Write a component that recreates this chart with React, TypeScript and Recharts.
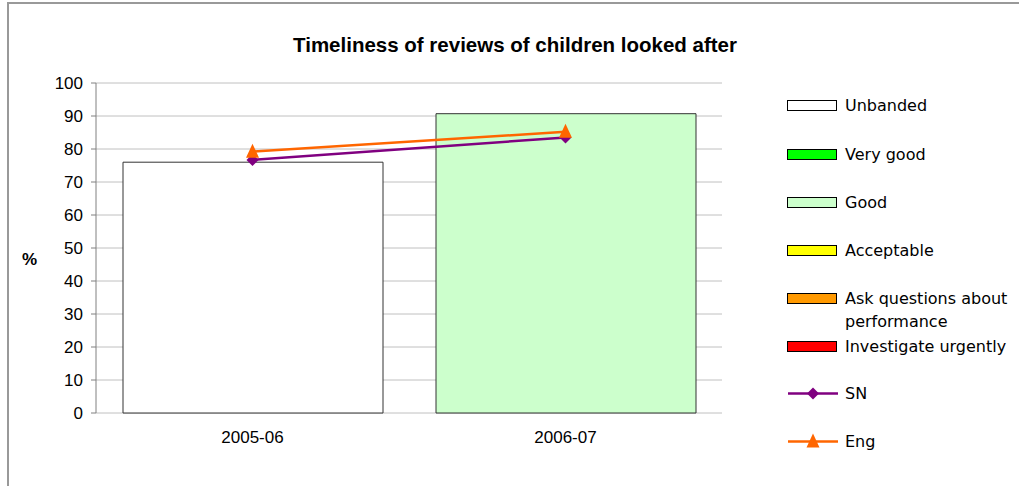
import React from 'react';
import { ComposedChart, Bar, Line, XAxis, YAxis, CartesianGrid, Cell } from 'recharts';

const categories = ['2005-06', '2006-07'];
const barValues = [76, 90.7];
const barBands = ['Unbanded', 'Good'];
const snValues = [76.7, 83.5];
const engValues = [79.2, 85.2];
const yTicks = [0, 10, 20, 30, 40, 50, 60, 70, 80, 90, 100];
const edgeTicks = [0, 1, 2];

const bandNames = ['Unbanded', 'Very good', 'Good', 'Acceptable', 'Ask questions about performance', 'Investigate urgently'];
const bandColors = ['#ffffff', '#00ff00', '#ccffcc', '#ffff00', '#ff9900', '#ff0000'];
const lineNames = ['SN', 'Eng'];
const lineColors = ['#800080', '#ff6600'];

const bandColorOf = (name: string) => bandColors[bandNames.indexOf(name)];

const data = categories.map((c, i) => ({
  cat: c,
  value: barValues[i],
  band: barBands[i],
  sn: snValues[i],
  eng: engValues[i],
}));

const FONT = '"Liberation Sans", Arial, sans-serif';
const LEGEND_FONT = '"DejaVu Sans", Verdana, sans-serif';

const Diamond = (props: any) => {
  const { cx, cy } = props;
  if (cx == null || cy == null) return null;
  const r = 6;
  return <path d={`M${cx},${cy - r}L${cx + r},${cy}L${cx},${cy + r}L${cx - r},${cy}Z`} fill={lineColors[0]} />;
};

const Triangle = (props: any) => {
  const { cx, cy } = props;
  if (cx == null || cy == null) return null;
  return <path d={`M${cx},${cy - 8}L${cx + 6.5},${cy + 6}L${cx - 6.5},${cy + 6}Z`} fill={lineColors[1]} />;
};

export default function App() {
  const legendTops = [105, 154, 202, 250, 298, 346, 393, 441];
  return (
    <div style={{ position: 'absolute', left: 0, top: 0, width: 1019, height: 486, background: '#fff', overflow: 'hidden' }}>
      <div style={{ position: 'absolute', left: 7, top: 2, width: 1030, height: 500, borderLeft: '2px solid #999', borderTop: '2px solid #999' }} />
      <div style={{ position: 'absolute', left: 0, width: 1030, top: 32, textAlign: 'center', fontFamily: FONT, fontWeight: 'bold', fontSize: 20.5, lineHeight: '26px' }}>
        Timeliness of reviews of children looked after
      </div>
      <div style={{ position: 'absolute', left: 22, top: 249, fontFamily: FONT, fontWeight: 'bold', fontSize: 17, lineHeight: '22px' }}>%</div>
      <div style={{ position: 'absolute', left: 0, top: 0 }}>
        <ComposedChart width={1019} height={486} data={data} margin={{ top: 83, right: 297, bottom: 33, left: 0 }}>
          <CartesianGrid vertical={false} stroke="#c0c0c0" strokeWidth={1} yAxisId="l" xAxisId="cat" />
          <XAxis xAxisId="edge" type="number" domain={[0, 2]} ticks={edgeTicks} tick={false} height={0} tickSize={6}
            axisLine={{ stroke: '#808080' }} tickLine={{ stroke: '#808080' }} />
          <XAxis xAxisId="cat" dataKey="cat" height={40} axisLine={false} tickLine={false} tickSize={6} tickMargin={12}
            tick={{ fill: '#000', fontFamily: FONT, fontSize: 17 }} interval={0} />
          <YAxis yAxisId="l" domain={[0, 100]} ticks={yTicks} width={96} tickSize={5} tickMargin={8}
            axisLine={{ stroke: '#808080' }} tickLine={{ stroke: '#808080' }}
            tick={{ fill: '#000', fontFamily: FONT, fontSize: 17 }} interval={0} />
          <YAxis yAxisId="r" orientation="right" domain={[0, 100]} width={0} tick={false} tickLine={false}
            axisLine={{ stroke: '#c0c0c0' }} />
          <Bar dataKey="value" xAxisId="cat" yAxisId="l" barSize={260} stroke="#333" strokeWidth={1} isAnimationActive={false}>
            {data.map((d, i) => (
              <Cell key={i} fill={bandColorOf(d.band)} />
            ))}
          </Bar>
          <Line dataKey="sn" xAxisId="cat" yAxisId="l" stroke={lineColors[0]} strokeWidth={2.5} dot={<Diamond />} activeDot={false} isAnimationActive={false} />
          <Line dataKey="eng" xAxisId="cat" yAxisId="l" stroke={lineColors[1]} strokeWidth={2.5} dot={<Triangle />} activeDot={false} isAnimationActive={false} />
        </ComposedChart>
      </div>
      {bandNames.map((name, i) => (
        <div key={name} style={{ position: 'absolute', left: 787, top: legendTops[i] - 11, fontFamily: LEGEND_FONT, fontSize: 16, lineHeight: '23px' }}>
          <div style={{ position: 'absolute', left: 0, top: 6, width: 50, height: 11, background: bandColors[i], border: '1px solid #000', boxSizing: 'border-box' }} />
          <div style={{ position: 'absolute', left: 58, top: 0, width: 180, whiteSpace: 'normal' }}>{name}</div>
        </div>
      ))}
      {lineNames.map((name, i) => (
        <div key={name} style={{ position: 'absolute', left: 787, top: legendTops[6 + i] - 11, fontFamily: LEGEND_FONT, fontSize: 16, lineHeight: '23px' }}>
          <svg style={{ position: 'absolute', left: 0, top: 0 }} width={52} height={23}>
            <line x1={1} y1={11.5} x2={51} y2={11.5} stroke={lineColors[i]} strokeWidth={2.5} />
            {i === 0
              ? <path d="M26,5.5L32,11.5L26,17.5L20,11.5Z" fill={lineColors[0]} />
              : <path d="M26,3.5L32.5,17.5L19.5,17.5Z" fill={lineColors[1]} />}
          </svg>
          <div style={{ position: 'absolute', left: 58, top: 0, whiteSpace: 'nowrap' }}>{name}</div>
        </div>
      ))}
    </div>
  );
}
